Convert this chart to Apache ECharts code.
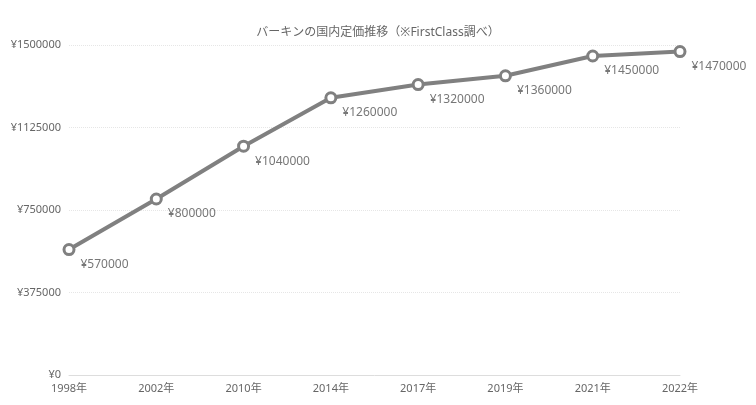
<!DOCTYPE html>
<html>
<head>
<meta charset="utf-8">
<script src="https://cdn.jsdelivr.net/npm/echarts@6/dist/echarts.min.js"></script>
<style>
  html, body { margin: 0; padding: 0; background: #fff; }
  #main { width: 756px; height: 405px; }
</style>
</head>
<body>
<div id="main"></div>
<script>
// データ
const years = ['1998年', '2002年', '2010年', '2014年', '2017年', '2019年', '2021年', '2022年'];
const prices = [570000, 800000, 1040000, 1260000, 1320000, 1360000, 1450000, 1470000];
const yMax = 1500000;
const yStep = 375000;

const font = '"Noto Sans", "Noto Sans CJK JP", sans-serif';

let chart = echarts.init(document.getElementById('main'));

let option = {
  backgroundColor: '#fff',
  textStyle: { fontFamily: font },
  title: {
    text: 'バーキンの国内定価推移（※FirstClass調べ）',
    left: 'center',
    top: 22,
    textStyle: { fontSize: 12, fontWeight: 'normal', color: '#666', fontFamily: font }
  },
  grid: { left: 69, right: 76, top: 45, bottom: 30, containLabel: false },
  xAxis: {
    type: 'category',
    data: years,
    boundaryGap: false,
    axisLine: { lineStyle: { color: '#ddd', width: 1 } },
    axisTick: { show: false },
    axisLabel: { color: '#666', fontSize: 11, margin: 8, fontFamily: font }
  },
  yAxis: {
    type: 'value',
    min: 0,
    max: yMax,
    interval: yStep,
    axisLine: { show: false },
    axisTick: { show: false },
    axisLabel: { color: '#666', fontSize: 11, margin: 8, formatter: v => '¥' + v, fontFamily: font },
    splitLine: { lineStyle: { color: '#e6e6e6', type: 'dotted' } }
  },
  series: [{
    type: 'line',
    data: prices,
    symbol: 'circle',
    symbolSize: 10,
    lineStyle: { color: '#808080', width: 4 },
    itemStyle: { color: '#fff', borderColor: '#808080', borderWidth: 3 },
    label: {
      show: true,
      position: 'right',
      distance: 5,
      offset: [0, 15],
      formatter: p => '¥' + p.value,
      color: '#777',
      fontSize: 12,
      fontFamily: font
    },
    emphasis: { disabled: true },
    animation: false
  }]
};

chart.setOption(option);
</script>
</body>
</html>
